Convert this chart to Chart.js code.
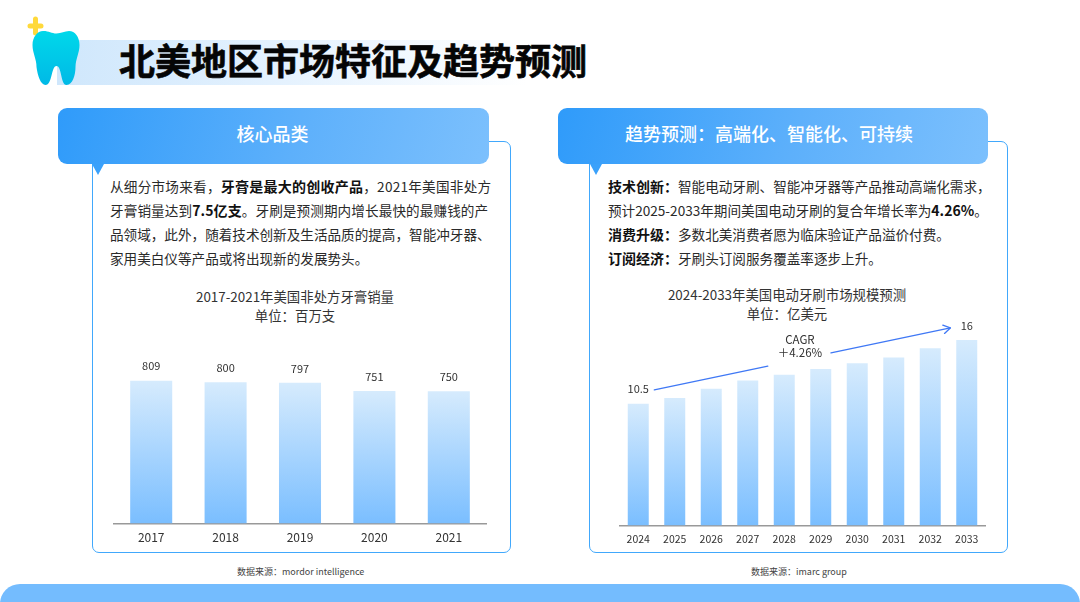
<!DOCTYPE html>
<html lang="zh"><head><meta charset="utf-8">
<script src="https://cdn.jsdelivr.net/npm/chart.js@4/dist/chart.umd.min.js"></script>
<style>
html,body{margin:0;padding:0;background:#fff;overflow:hidden}
#page{position:relative;width:1080px;height:602px;overflow:hidden;font-family:"Noto Sans CJK SC","Noto Sans",sans-serif;color:#2b2b2b}
#page>*{position:absolute}
.banner{left:57px;top:40px;width:470px;height:45px;background:linear-gradient(90deg,#cfe7fc,#e3f1fe 45%,#fff)}
h1{margin:0;left:119px;top:33px;font-size:36px;line-height:52px;font-weight:700;-webkit-text-stroke:0.6px #050505;color:#050505;white-space:nowrap}
.panel{top:141px;height:412px;box-sizing:border-box;border:1.5px solid #41a8fc;border-radius:7px;background:#fff}
.head{top:108px;height:56px;border-radius:9px;color:#fff;font-size:18px;font-weight:500;line-height:51px;text-align:center;background:linear-gradient(105deg,#2f9bfa,#5db0fb 55%,#7cc0fd)}
.tri{top:164px;width:0;height:0;border-left:6.5px solid transparent;border-right:6.5px solid transparent;border-top:11px solid #3aa1fb}
.t{font-size:13.6px;line-height:24px;white-space:nowrap;color:#2a2a2a}
.t b{font-weight:700;color:#111;font-size:14px}
.ct{width:400px;text-align:center;font-size:13.4px;line-height:19px;color:#333;white-space:nowrap}
canvas{display:block}
.cw{top:282px;height:270px}
.src{top:564px;font-size:9px;line-height:16px;color:#444;white-space:nowrap}
.foot{left:0;top:584px;width:1080px;height:40px;background:#74bcfe;border-radius:20px 20px 0 0}
</style></head><body>
<div id="page">
<div class="banner"></div>
<svg style="left:26px;top:14px" width="58" height="74" viewBox="0 0 58 74">
<defs><linearGradient id="g" x1="0" y1="0" x2="0" y2="1"><stop offset="0" stop-color="#00d8ea"/><stop offset="1" stop-color="#00b9e6"/></linearGradient></defs>
<path d="M9.500 5v14M4 12h11" stroke="#ffd93b" stroke-width="5" stroke-linecap="round" fill="none"/>
<path d="M16 17c5.500 0 8 2.500 13 2.500s8-2.500 12.500-2.500c6 0 10.500 6 10.500 14 0 8-4 14-4 22 0 8-3 18-9 18-6 0-4.500-19-10-19s-4 19-11 19c-5 0-8-10-9-18 0-8-4-14-4-22 0-8 5-14 10.500-14z" fill="url(#g)" transform="translate(1.500,0)"/>
</svg>
<h1>北美地区市场特征及趋势预测</h1>

<div class="panel" style="left:92px;width:419px"></div>
<div class="head" style="left:58px;width:431px;text-indent:-2px">核心品类</div>
<div class="tri" style="left:92px"></div>
<div class="panel" style="left:589px;width:419px"></div>
<div class="head" style="left:558px;width:430px;text-indent:-8px">趋势预测&#xFF1A;高端化、智能化、可持续</div>
<div class="tri" style="left:590px"></div>

<div class="t" style="left:110px;top:174px;letter-spacing:0.25px">从细分市场来看&#xFF0C;<b>牙膏是最大的创收产品</b>&#xFF0C;2021年美国非处方</div>
<div class="t" style="left:110px;top:198px;letter-spacing:0.1px">牙膏销量达到<b>7.5亿支</b>。牙刷是预测期内增长最快的最赚钱的产</div>
<div class="t" style="left:110px;top:222px">品领域&#xFF0C;此外&#xFF0C;随着技术创新及生活品质的提高&#xFF0C;智能冲牙器、</div>
<div class="t" style="left:110px;top:246px">家用美白仪等产品或将出现新的发展势头。</div>

<div class="t" style="left:608px;top:174px"><b>技术创新&#xFF1A;</b>智能电动牙刷、智能冲牙器等产品推动高端化需求&#xFF0C;</div>
<div class="t" style="left:608px;top:198px">预计2025-2033年期间美国电动牙刷的复合年增长率为<b>4.26%</b>。</div>
<div class="t" style="left:608px;top:222px"><b>消费升级&#xFF1A;</b>多数北美消费者愿为临床验证产品溢价付费。</div>
<div class="t" style="left:608px;top:246px"><b>订阅经济&#xFF1A;</b>牙刷头订阅服务覆盖率逐步上升。</div>

<div class="ct" style="left:95px;top:287px">2017-2021年美国非处方牙膏销量<br>单位&#xFF1A;百万支</div>
<div class="ct" style="left:587px;top:285px">2024-2033年美国电动牙刷市场规模预测<br>单位&#xFF1A;亿美元</div>

<div class="cw" style="left:95px;width:400px"><canvas id="c1" width="400" height="270"></canvas></div>
<div class="cw" style="left:588px;width:398px"><canvas id="c2" width="398" height="270"></canvas></div>

<div class="src" style="left:237px">数据来源&#xFF1A;mordor intelligence</div>
<div class="src" style="left:751px">数据来源&#xFF1A;imarc group</div>
<div class="foot"></div>
</div>
<script>
const toothpasteYears = ['2017','2018','2019','2020','2021'];
const toothpasteSales = [809,800,797,751,750];
const toothpasteLabels = ['809','800','797','751','750'];
const brushYears = ['2024','2025','2026','2027','2028','2029','2030','2031','2032','2033'];
const brushMarket = [10.5,11.0,11.8,12.5,13.0,13.5,14.0,14.5,15.3,16.0];
const brushLabels = ['10.5','','','','','','','','','16'];
const cagrSegments = [[[0.44,11.7],[3.55,13.75]],[[5.28,14.9],[8.55,17.05]]];
const cagrText = ['CAGR','\uFF0B4.26%'];
const FONT = '"Noto Sans CJK SC","Noto Sans",sans-serif';

Chart.defaults.animation = false;
Chart.defaults.responsive = false;
Chart.defaults.devicePixelRatio = 1;

function barFill(ctx){
  const c = ctx.chart, y = c.scales.y;
  const v = ctx.parsed ? ctx.parsed.y : undefined;
  if(!y || v === undefined) return '#a8d4fe';
  const y0 = y.getPixelForValue(v), y1 = y.getPixelForValue(0);
  if(!isFinite(y0) || !isFinite(y1)) return '#a8d4fe';
  const g = c.ctx.createLinearGradient(0, y0, 0, y1);
  g.addColorStop(0,'#d6ebfd'); g.addColorStop(1,'#7abeff');
  return g;
}
const barLabels = {
  id:'barLabels',
  afterDatasetsDraw(chart,args,opts){
    const {ctx} = chart, meta = chart.getDatasetMeta(0);
    ctx.save(); ctx.font = '11px '+FONT; ctx.fillStyle='#333'; ctx.textAlign='center'; ctx.textBaseline='bottom';
    meta.data.forEach((b,i)=>{ if(opts.text[i]) ctx.fillText(opts.text[i], b.x, b.y-opts.gap); });
    ctx.restore();
  }
};
const cagrArrow = {
  id:'cagrArrow',
  afterDatasetsDraw(chart,args,opts){
    if(!opts.segments) return;
    const {ctx,scales:{x,y}} = chart;
    const P = p=>[x.getPixelForValue(p[0]), y.getPixelForValue(p[1])];
    ctx.save(); ctx.strokeStyle='#3f78f5'; ctx.lineWidth=1.3; ctx.lineCap='round'; ctx.lineJoin='round';
    opts.segments.forEach(s=>{const a=P(s[0]),b=P(s[1]);ctx.beginPath();ctx.moveTo(a[0],a[1]);ctx.lineTo(b[0],b[1]);ctx.stroke();});
    const last = opts.segments[opts.segments.length-1], a=P(last[0]), b=P(last[1]);
    const ang=Math.atan2(b[1]-a[1],b[0]-a[0]);
    ctx.beginPath();
    ctx.moveTo(b[0]-8*Math.cos(ang-0.55),b[1]-8*Math.sin(ang-0.55));
    ctx.lineTo(b[0],b[1]);
    ctx.lineTo(b[0]-8*Math.cos(ang+0.55),b[1]-8*Math.sin(ang+0.55));
    ctx.stroke();
    const mid = P([(opts.segments[0][1][0]+opts.segments[1][0][0])/2,(opts.segments[0][1][1]+opts.segments[1][0][1])/2]);
    ctx.font='11.5px '+FONT; ctx.fillStyle='#333'; ctx.textAlign='center'; ctx.textBaseline='middle';
    ctx.fillText(opts.text[0], mid[0]+0.5, mid[1]-20);
    ctx.fillText(opts.text[1], mid[0]+0.5, mid[1]-7);
    ctx.restore();
  }
};
function makeChart(id,labels,data,lbl,max,pad,pct,tickSize,gap){
  return new Chart(document.getElementById(id),{
    type:'bar',
    data:{labels,datasets:[{data,backgroundColor:barFill,barPercentage:pct,categoryPercentage:1,borderWidth:0}]},
    plugins:[barLabels,cagrArrow],
    options:{
      layout:{padding:pad},
      plugins:{
        legend:{display:false},tooltip:{enabled:false},title:{display:false},
        barLabels:{text:lbl,gap},
        cagrArrow:id==='c2'?{segments:cagrSegments,text:cagrText}:{}
      },
      scales:{
        x:{grid:{display:false,drawTicks:false},border:{color:'#999',width:1.5},
           ticks:{color:'#333',font:{family:FONT,size:tickSize},padding:7,maxRotation:0,autoSkip:false}},
        y:{display:false,min:0,max}
      }
    }
  });
}
makeChart('c1',toothpasteYears,toothpasteSales,toothpasteLabels,1000,{left:19,right:9,top:65,bottom:0},0.565,12,9);
makeChart('c2',brushYears,brushMarket,brushLabels,17,{left:32,right:1,top:46.5,bottom:0},0.575,10.5,9);
</script>
</body></html>
